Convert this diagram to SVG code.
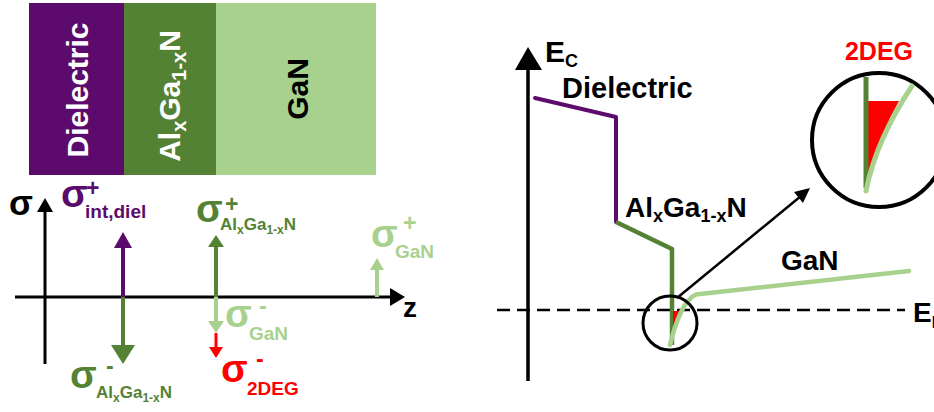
<svg xmlns="http://www.w3.org/2000/svg" width="934" height="412" viewBox="0 0 934 412">
<style>
text{font-family:"Liberation Sans",Arial,sans-serif;font-weight:bold}
.pu{fill:#5C0B6C}.dg{fill:#548235}.lg{fill:#A9D18E}.rd{fill:#FF0000}.bk{fill:#000}.wh{fill:#fff}
.ax{stroke:#000;stroke-width:3;fill:none}
.s{font-size:39px}.sup{font-size:23px}.sub{font-size:19px}
</style>
<rect width="934" height="412" fill="#fff"/>
<!-- Layer stack -->
<g id="layers">
<g id="layer-dielectric">
<rect x="29" y="3" width="95" height="172" fill="#5C0B6C"/>
<text class="wh" font-size="30" text-anchor="middle" transform="translate(88,90) rotate(-90)">Dielectric</text>
</g>
<g id="layer-algan">
<rect x="124" y="3" width="92" height="172" fill="#548235"/>
<text class="wh" font-size="30" text-anchor="middle" transform="translate(180,96) rotate(-90)">Al<tspan font-size="20" dy="6">x</tspan><tspan dy="-6">Ga</tspan><tspan font-size="20" dy="6">1-x</tspan><tspan dy="-6">N</tspan></text>
</g>
<g id="layer-gan">
<rect x="216" y="3" width="160" height="172" fill="#A9D18E"/>
<text class="bk" font-size="30" text-anchor="middle" transform="translate(308,89) rotate(-90)">GaN</text>
</g>
</g>
<!-- Charge plot -->
<g id="charge-plot">
<g id="sigma-axes">
<line class="ax" x1="45" y1="210" x2="45" y2="364"/>
<polygon points="45,198 53,212 37,212" fill="#000"/>
<line class="ax" x1="15" y1="297" x2="392" y2="297"/>
<polygon points="405,297 390,288 390,306" fill="#000"/>
<text x="9" y="215" font-size="35" class="bk">σ</text>
<text x="403" y="317" font-size="28" class="bk">z</text>
</g>
<g id="charge-arrows">
<line x1="123" y1="297" x2="123" y2="246" stroke="#5C0B6C" stroke-width="4"/>
<polygon points="123,232 132,248 114,248" fill="#5C0B6C"/>
<line x1="123" y1="297" x2="123" y2="347" stroke="#548235" stroke-width="4"/>
<polygon points="123,364 135,345 111,345" fill="#548235"/>
<line x1="216" y1="297" x2="216" y2="245" stroke="#548235" stroke-width="4"/>
<polygon points="216,235 224,247 208,247" fill="#548235"/>
<line x1="216" y1="297" x2="216" y2="323" stroke="#A9D18E" stroke-width="4"/>
<polygon points="216,333 224,321 208,321" fill="#A9D18E"/>
<line x1="216" y1="333" x2="216" y2="349" stroke="#FF0000" stroke-width="3"/>
<polygon points="216,358 223,347 209,347" fill="#FF0000"/>
<line x1="377" y1="297" x2="377" y2="268" stroke="#A9D18E" stroke-width="4"/>
<polygon points="377,258 384,270 370,270" fill="#A9D18E"/>
</g>
<g id="charge-labels">
<g class="pu">
<text x="61" y="207" class="s">σ</text>
<text x="86" y="196" class="sup">+</text>
<text x="85" y="218" class="sub">int,diel</text>
</g>
<g class="dg">
<text x="196" y="222" class="s">σ</text>
<text x="225" y="212" class="sup">+</text>
<text x="220" y="230" font-size="17">Al<tspan font-size="12" dy="4">x</tspan><tspan dy="-4">Ga</tspan><tspan font-size="12" dy="4">1-x</tspan><tspan dy="-4">N</tspan></text>
</g>
<g class="lg">
<text x="371" y="247" class="s">σ</text>
<text x="403" y="231" class="sup">+</text>
<text x="395" y="258" class="sub">GaN</text>
</g>
<g class="lg">
<text x="225" y="327" class="s">σ</text>
<text x="259" y="314" class="sup">-</text>
<text x="249" y="340" class="sub">GaN</text>
</g>
<g class="rd">
<text x="221" y="382" class="s">σ</text>
<text x="256" y="367" class="sup">-</text>
<text x="247" y="395" class="sub">2DEG</text>
</g>
<g class="dg">
<text x="70" y="388" class="s">σ</text>
<text x="106" y="374" class="sup">-</text>
<text x="96" y="398" font-size="17">Al<tspan font-size="12" dy="4">x</tspan><tspan dy="-4">Ga</tspan><tspan font-size="12" dy="4">1-x</tspan><tspan dy="-4">N</tspan></text>
</g>
</g>
</g>
<!-- Band diagram -->
<g id="band-diagram">
<g id="ec-axis">
<line x1="528" y1="66" x2="528" y2="381" stroke="#000" stroke-width="3.5"/>
<polygon points="528,47 542,70 515,70" fill="#000"/>
<text x="545" y="62" font-size="30" class="bk">E<tspan font-size="18" dy="5">C</tspan></text>
</g>
<g id="ef-line">
<line x1="497" y1="310" x2="905" y2="310" stroke="#000" stroke-width="2.5" stroke-dasharray="13 7"/>
<text x="913" y="322" font-size="28" class="bk">E<tspan font-size="16" dy="6">F</tspan></text>
</g>
<g id="band-dielectric">
<polyline points="535,98 616,117 616,222" fill="none" stroke="#5C0B6C" stroke-width="4" stroke-linecap="round" stroke-linejoin="round"/>
<text x="562" y="98" font-size="29" class="bk">Dielectric</text>
</g>
<g id="band-algan">
<polyline points="616,222 672,249 672,345" fill="none" stroke="#548235" stroke-width="4.5" stroke-linejoin="round"/>
<text x="625" y="217" font-size="28" class="bk">Al<tspan font-size="18" dy="5">x</tspan><tspan dy="-5">Ga</tspan><tspan font-size="18" dy="5">1-x</tspan><tspan dy="-5">N</tspan></text>
</g>
<g id="band-gan">
<polygon points="673,311 684,311 673,326" fill="#FF0000"/>
<path d="M670,345 C675,325 682,306 690,299 Q694,294 700,294 L909,271" fill="none" stroke="#A9D18E" stroke-width="4.5" stroke-linecap="round" stroke-linejoin="round"/>
<text x="781" y="270" font-size="28" class="bk">GaN</text>
</g>
<g id="zoom-small">
<circle cx="670" cy="323" r="27" fill="none" stroke="#000" stroke-width="3"/>
</g>
<g id="zoom-arrow">
<line x1="677" y1="298" x2="801" y2="196" stroke="#000" stroke-width="2.5"/>
<polygon points="810,188 803,203 794,192" fill="#000"/>
</g>
<g id="zoom-big">
<circle cx="879" cy="140" r="67" fill="#fff" stroke="#000" stroke-width="4"/>
<polygon points="868,101 899,101 890,118 883,140 877,158 872,172 868,184" fill="#FF0000"/>
<line x1="866" y1="77" x2="866" y2="188" stroke="#548235" stroke-width="5"/>
<path d="M866,191 Q876,140 912,86" fill="none" stroke="#A9D18E" stroke-width="5" stroke-linecap="round"/>
<text x="879" y="60" font-size="25" class="rd" text-anchor="middle">2DEG</text>
</g>
</g>
</svg>
